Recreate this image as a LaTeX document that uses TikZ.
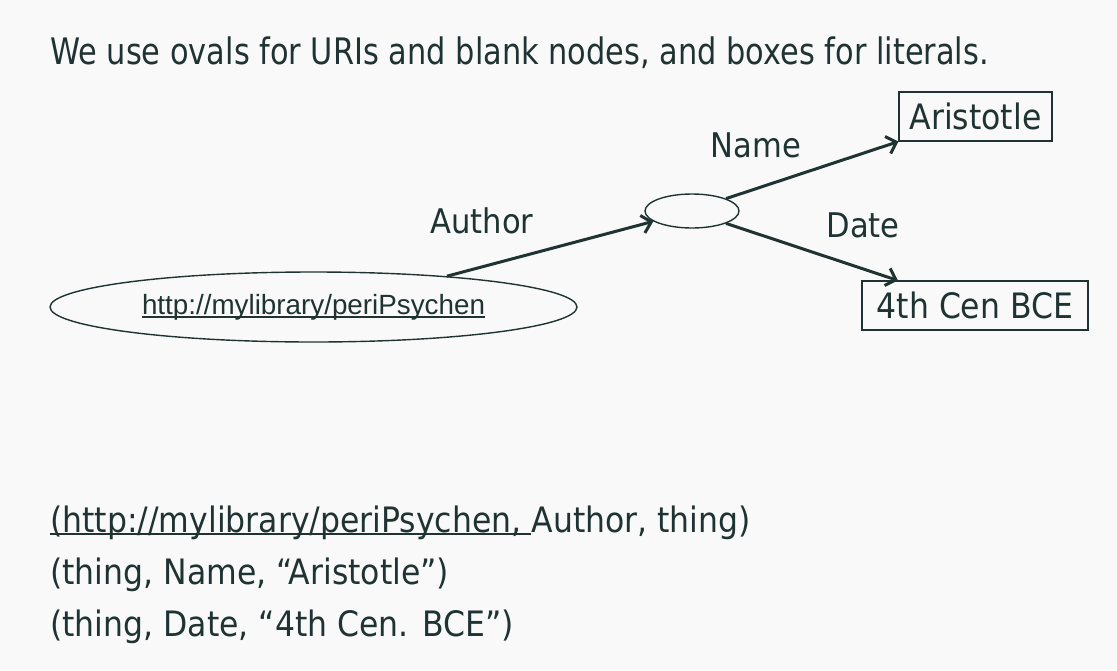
\documentclass[tikz,border=0pt]{standalone}
\usepackage{fontspec}
\setmainfont{DejaVu Sans}[FakeStretch=0.9]
\newfontfamily\headfont{DejaVu Sans}[FakeStretch=0.833]
\newfontfamily\linkfont{Liberation Sans}
\usetikzlibrary{arrows.meta,shapes.geometric}
\definecolor{rdfInk}{HTML}{1F3333}
\definecolor{rdfPaper}{HTML}{F9F9F9}
\newcommand{\linkline}[2]{\setbox0\hbox{#2}\rlap{\rule[-#1]{\wd0}{1.6pt}}\box0}

\begin{document}
\begin{tikzpicture}[x=1pt,y=-1pt, every node/.style={text=rdfInk, inner sep=0pt},
    uriOval/.style={ellipse, draw=rdfInk, line width=1.4pt},
    literalBox/.style={draw=rdfInk, line width=1.1pt, font=\fontsize{35}{40}\selectfont},
    edgeArrow/.style={draw=rdfInk, line width=3pt, -{Straight Barb[length=9pt,width=18pt]}},
    edgeLabel/.style={font=\fontsize{34}{40}\selectfont},
    tripleLine/.style={anchor=base west, font=\fontsize{35}{40}\selectfont}]
    \fill[rdfPaper] (0,0) rectangle (1117,670);
    \useasboundingbox (0,0) rectangle (1117,670);
    \node[anchor=base west, font=\headfont\fontsize{36.5}{40}\selectfont] (title) at (50,64) {We use ovals for URIs and blank nodes, and boxes for literals.};
    \node[uriOval, minimum width=527, minimum height=70] (book) at (313.5,307) {\linkfont\fontsize{27.8}{30}\selectfont\linkline{3.5pt}{http://mylibrary/periPsychen}};
    \node[uriOval, minimum width=94, minimum height=34] (thing) at (692,211) {};
    \node[literalBox, minimum width=153, minimum height=49] (aristotle) at (975.5,116.5) {Aristotle};
    \node[literalBox, minimum width=226, minimum height=49] (century) at (975,305.5) {4th Cen BCE};
    \draw[edgeArrow] (book.13.5) -- (thing.195);
    \draw[edgeArrow] (thing.20) -- (aristotle.south west);
    \draw[edgeArrow] (thing.-20) -- (century.162);
    \node[edgeLabel] (authorLbl) at (482,221) {Author};
    \node[edgeLabel] (nameLbl) at (756,145) {Name};
    \node[edgeLabel] (dateLbl) at (863,225) {Date};
    \node[tripleLine] (triple1) at (50,532) {\linkline{3pt}{(http://mylibrary/periPsychen,\ }Author, thing)};
    \node[tripleLine] (triple2) at (50,584) {(thing, Name, “Aristotle”)};
    \node[tripleLine] (triple3) at (50,636) {(thing, Date, “4th Cen. BCE”)};
  \end{tikzpicture}
\end{document}
